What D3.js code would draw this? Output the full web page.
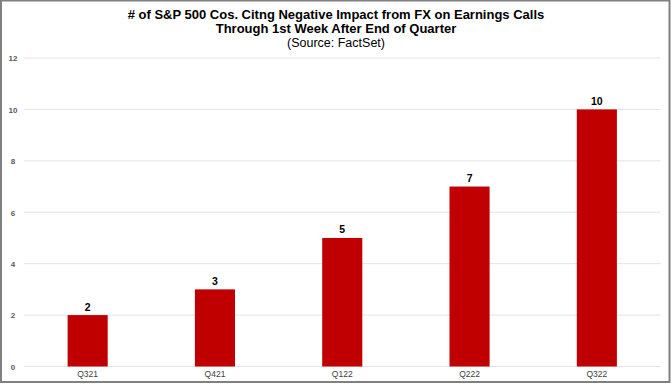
<!DOCTYPE html>
<html><head><meta charset="utf-8">
<script src="https://cdn.jsdelivr.net/npm/d3@7"></script>
<style>body{margin:0;background:#fff}svg{display:block}</style>
</head><body>
<script>
const categories = ["Q321","Q421","Q122","Q222","Q322"];
const values = [2,3,5,7,10];
const yTicks = [0,2,4,6,8,10,12];
const titleLines = ["# of S&P 500 Cos. Citng Negative Impact from FX on Earnings Calls","Through 1st Week After End of Quarter","(Source: FactSet)"];

const W=672,H=384;
const svg=d3.select("body").append("svg").attr("width",W).attr("height",H);
svg.append("rect").attr("x",0).attr("y",0).attr("width",W).attr("height",H).attr("fill","#fff");
// border
svg.append("rect").attr("x",1).attr("y",0.5).attr("width",668.5).attr("height",381.5)
  .attr("fill","none").attr("stroke","#808080").attr("stroke-width",2);

const x=d3.scaleBand().domain(categories).range([24,660.5]).paddingInner(0.685).paddingOuter(0.3425);
const y=d3.scaleLinear().domain([0,12]).range([366.5,58]);

// gridlines
svg.append("g").selectAll("line").data(yTicks).join("line")
  .attr("x1",24).attr("x2",660.5).attr("y1",d=>y(d)).attr("y2",d=>y(d))
  .attr("stroke","#e3e3e3").attr("stroke-width",1);

// y axis labels
const yAxis=d3.axisLeft(y).tickValues(yTicks).tickSize(0).tickPadding(0);
const gy=svg.append("g").attr("transform","translate(13,0)").call(yAxis);
gy.select(".domain").remove();
gy.selectAll("text").attr("font-family","Arial, Liberation Sans, sans-serif").attr("font-size",8)
  .attr("font-weight","bold").attr("fill","#595959").attr("text-anchor","middle").attr("dy","0.35em");

// bars
svg.append("g").selectAll("rect").data(values).join("rect")
  .attr("x",(d,i)=>x(categories[i])).attr("width",x.bandwidth())
  .attr("y",d=>y(d)).attr("height",d=>y(0)-y(d)).attr("fill","#c00000");

// value labels
svg.append("g").selectAll("text").data(values).join("text")
  .attr("x",(d,i)=>x(categories[i])+x.bandwidth()/2).attr("y",d=>y(d)-4.5)
  .attr("text-anchor","middle").attr("font-family","Arial, Liberation Sans, sans-serif")
  .attr("font-size",10.5).attr("font-weight","bold").attr("fill","#000").text(d=>d);

// x axis labels
const xAxis=d3.axisBottom(x).tickSize(0).tickPadding(0);
const gx=svg.append("g").attr("transform","translate(0,371)").call(xAxis);
gx.select(".domain").remove();
gx.selectAll("text").attr("font-family","Arial, Liberation Sans, sans-serif").attr("font-size",8.5)
  .attr("fill","#404040").attr("dy","0.71em");

// title
svg.append("g").selectAll("text").data(titleLines).join("text")
  .attr("x",336).attr("y",(d,i)=>[19,33,47][i])
  .attr("text-anchor","middle").attr("font-family","Arial, Liberation Sans, sans-serif")
  .attr("font-size",(d,i)=>i<2?13:12.5).attr("font-weight",(d,i)=>i<2?"bold":"normal")
  .attr("fill","#000").text(d=>d);
</script>
</body></html>
